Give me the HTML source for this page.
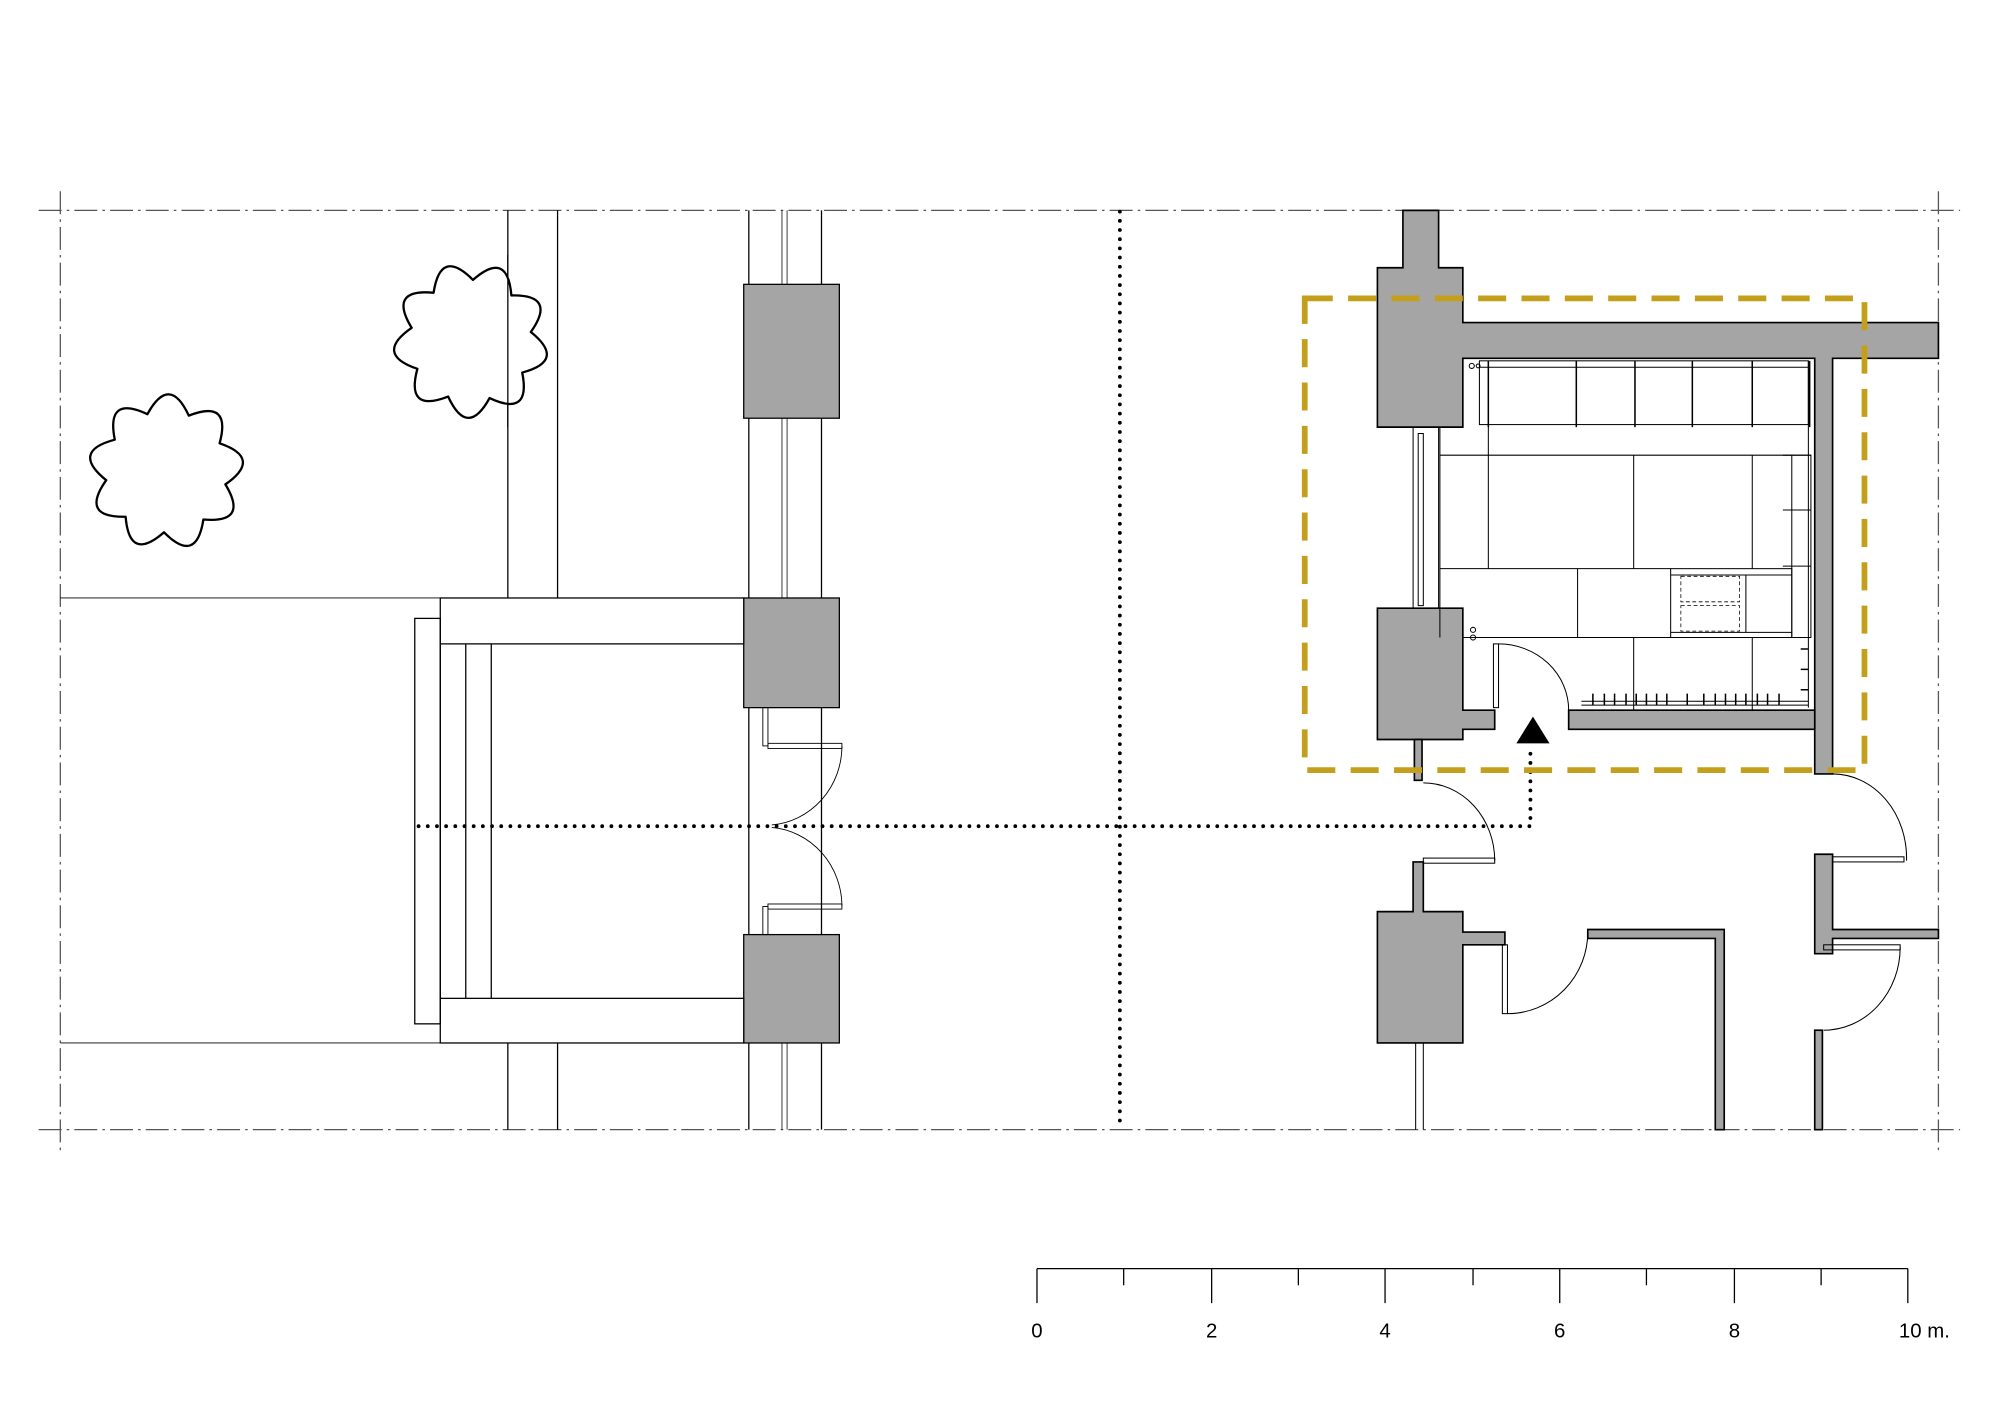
<!DOCTYPE html>
<html><head><meta charset="utf-8"><style>html,body{margin:0;padding:0;background:#fff}svg{display:block}</style></head>
<body>
<svg width="2000" height="1414" viewBox="0 0 1568 1109" xmlns="http://www.w3.org/2000/svg" font-family="Liberation Sans, sans-serif">
<rect width="1568" height="1109" fill="#fff"/>
<g stroke="#555" stroke-width="1" fill="none" stroke-dasharray="18 4 2 4">
<line x1="30" y1="165" x2="1537" y2="165"/><line x1="30" y1="886" x2="1537" y2="886"/>
<line x1="47" y1="150" x2="47" y2="902"/><line x1="1520" y1="150" x2="1520" y2="902"/>
</g>
<g stroke="#000" stroke-width="1" fill="none">
<line x1="47" y1="469" x2="345" y2="469" stroke-width="0.7"/><line x1="47" y1="818" x2="345" y2="818" stroke-width="0.7"/>
<line x1="398" y1="165" x2="398" y2="469"/><line x1="437" y1="165" x2="437" y2="469"/>
<line x1="398" y1="818" x2="398" y2="886"/><line x1="437" y1="818" x2="437" y2="886"/>
<line x1="587" y1="165" x2="587" y2="886"/><line x1="644" y1="165" x2="644" y2="886"/>
<g stroke-width="0.6"><line x1="613" y1="165" x2="613" y2="223"/><line x1="617" y1="165" x2="617" y2="223"/>
<line x1="613" y1="328" x2="613" y2="469"/><line x1="617" y1="328" x2="617" y2="469"/>
<line x1="613" y1="818" x2="613" y2="886"/><line x1="617" y1="818" x2="617" y2="886"/></g>
<rect x="583" y="223" width="75" height="105" fill="#a5a5a5"/>
<rect x="583" y="469" width="75" height="86" fill="#a5a5a5"/>
<rect x="583" y="733" width="75" height="85" fill="#a5a5a5"/>
<rect x="345" y="469" width="238" height="36" fill="#fff"/>
<rect x="345" y="783" width="238" height="35" fill="#fff"/>
<line x1="345" y1="505" x2="345" y2="783"/><line x1="365" y1="505" x2="365" y2="783"/><line x1="385" y1="505" x2="385" y2="783"/>
<rect x="325" y="485" width="20" height="318"/>
<g stroke-width="0.7">
<rect x="598" y="555" width="4" height="30"/><rect x="598" y="711" width="4" height="22"/>
<rect x="602" y="583" width="58" height="4"/><rect x="602" y="709" width="58" height="4"/>
<path d="M660 585 A60 62 0 0 1 605 647"/><path d="M660 711 A60 62 0 0 0 605 649"/>
</g>
</g>
<g fill="#fff" stroke="#000" stroke-width="1.6" stroke-linejoin="round">
<path transform="translate(130 370) rotate(-8) scale(1.13)" d="M39.5 -14.4 Q68 0 39.5 14.4 Q52.1 43.7 21 36.4 Q11.8 67 -7.3 41.4 Q-34 58.9 -32.2 27 Q-63.9 23.3 -42 0 Q-63.9 -23.3 -32.2 -27 Q-34 -58.9 -7.3 -41.4 Q11.8 -67 21 -36.4 Q52.1 -43.7 39.5 -14.4Z"/>
<path transform="translate(369 267) rotate(12) scale(1.13)" d="M39.5 -14.4 Q68 0 39.5 14.4 Q52.1 43.7 21 36.4 Q11.8 67 -7.3 41.4 Q-34 58.9 -32.2 27 Q-63.9 23.3 -42 0 Q-63.9 -23.3 -32.2 -27 Q-34 -58.9 -7.3 -41.4 Q11.8 -67 21 -36.4 Q52.1 -43.7 39.5 -14.4Z"/>
</g>
<line x1="398" y1="200" x2="398" y2="335" stroke="#000" stroke-width="1"/>
<g stroke="#000" stroke-width="3" stroke-linecap="round" stroke-dasharray="0 7.2" fill="none">
<line x1="878" y1="166" x2="878" y2="886"/>
<polyline points="328,648 1200,648 1200,585"/>
</g>
<polygon points="1202,562 1189,583 1215,583" fill="#000"/>
<g fill="#a5a5a5" stroke="#000" stroke-width="1.3">
<path d="M1100 165 H1128 V210 H1147 V253 H1520 V281 H1437 V607 H1423 V281 H1147 V335 H1080 V210 H1100Z"/>
<path d="M1080 477 H1147 V557 H1172 V572 H1147 V580 H1080Z"/>
<rect x="1230" y="557" width="193" height="15"/>
<rect x="1109" y="580" width="6" height="32"/>
<path d="M1108 676 H1116 V715 H1147 V731 H1180 V741 H1147 V818 H1080 V715 H1108Z"/>
<path d="M1245 729 H1352 V886 H1345 V736 H1245Z"/>
<path d="M1423 670 H1437 V729 H1520 V736 H1437 V748 H1423Z"/>
<rect x="1423" y="808" width="6" height="78"/>
</g>
<g stroke="#000" stroke-width="0.8" fill="none">
<line x1="1108" y1="335" x2="1108" y2="477"/><line x1="1128" y1="335" x2="1128" y2="477"/>
<rect x="1112" y="340" width="4" height="135"/>
<line x1="1110" y1="818" x2="1110" y2="886"/><line x1="1116" y1="818" x2="1116" y2="886"/>
<line x1="1129" y1="357" x2="1405" y2="357"/><line x1="1129" y1="446" x2="1310" y2="446"/><line x1="1147" y1="500" x2="1405" y2="500"/>
<line x1="1129" y1="335" x2="1129" y2="500"/>
<line x1="1167" y1="333" x2="1167" y2="446"/><line x1="1281" y1="357" x2="1281" y2="446"/><line x1="1374" y1="357" x2="1374" y2="446"/>
<line x1="1237" y1="446" x2="1237" y2="500"/><line x1="1281" y1="500" x2="1281" y2="557"/><line x1="1374" y1="500" x2="1374" y2="557"/>
<rect x="1160" y="283" width="258" height="50"/>
<line x1="1160" y1="288" x2="1418" y2="288"/>
<g stroke-width="1.2"><line x1="1167" y1="283" x2="1167" y2="335"/><line x1="1236" y1="283" x2="1236" y2="335"/><line x1="1282" y1="283" x2="1282" y2="335"/><line x1="1327" y1="283" x2="1327" y2="335"/><line x1="1374" y1="283" x2="1374" y2="335"/><line x1="1419" y1="283" x2="1419" y2="335"/></g>
<circle cx="1154" cy="287" r="2"/><circle cx="1159" cy="287" r="1.5"/>
<rect x="1405" y="357" width="15" height="143"/>
<line x1="1398" y1="357" x2="1420" y2="357"/><line x1="1398" y1="400" x2="1420" y2="400"/><line x1="1398" y1="444" x2="1420" y2="444"/><line x1="1398" y1="500" x2="1420" y2="500"/>
<rect x="1310" y="446" width="95" height="54"/>
<line x1="1310" y1="451" x2="1405" y2="451"/><line x1="1310" y1="496" x2="1405" y2="496"/><line x1="1369" y1="451" x2="1369" y2="496"/>
<g stroke-dasharray="3 2" stroke-width="0.6"><rect x="1318" y="452" width="46" height="20"/><rect x="1318" y="475" width="46" height="20"/></g>
<line x1="1418" y1="283" x2="1418" y2="555"/>
<line x1="1240" y1="553" x2="1418" y2="553"/><line x1="1240" y1="550" x2="1418" y2="550"/>
<g stroke-width="1.2"><path d="M1249 544V553 M1258 544V553 M1266 544V553 M1275 544V553 M1283 544V553 M1291 544V553 M1299 544V553 M1307 544V553 M1323 544V553 M1336 544V553 M1345 544V553 M1353 544V553 M1361 544V553 M1369 544V553 M1378 544V553 M1386 544V553 M1395 544V553 M1412 509H1418 M1412 525H1418 M1412 541H1418"/></g>
<circle cx="1155" cy="494" r="2"/><circle cx="1155" cy="500" r="2"/>
<rect x="1171" y="505" width="4" height="50"/><path d="M1175 505 A55 52 0 0 1 1230 557"/>
<rect x="1116" y="673" width="56" height="4"/><path d="M1116 614 A56 61 0 0 1 1172 675"/>
<rect x="1178" y="741" width="4" height="54"/><path d="M1182 795 A63 64 0 0 0 1245 731"/>
<rect x="1437" y="672" width="56" height="4"/><path d="M1437 607 A58 66 0 0 1 1495 675"/>
<rect x="1430" y="741" width="60" height="4"/><path d="M1490 743 A60 65 0 0 1 1430 808"/>
</g>
<path d="M1023 234 H1462 V604 H1023 Z" fill="none" stroke="#c39f1c" stroke-width="4.5" stroke-dasharray="22 12"/>
<g stroke="#000" stroke-width="1">
<line x1="813" y1="995" x2="1496" y2="995"/>
<path d="M813 995V1022 M881 995V1008 M950 995V1022 M1018 995V1008 M1086 995V1022 M1155 995V1008 M1223 995V1022 M1291 995V1008 M1360 995V1022 M1428 995V1008 M1496 995V1022"/>
</g>
<g font-size="16" fill="#000" text-anchor="middle">
<text x="813" y="1049">0</text><text x="950" y="1049">2</text><text x="1086" y="1049">4</text><text x="1223" y="1049">6</text><text x="1360" y="1049">8</text><text x="1509" y="1049">10 m.</text>
</g>
</svg>
</body></html>
